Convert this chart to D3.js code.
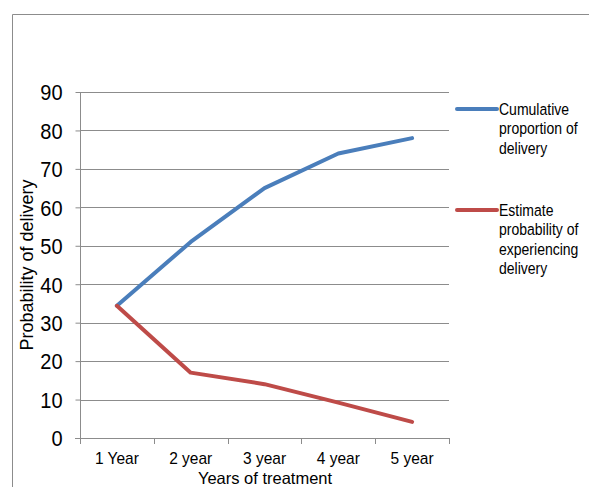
<!DOCTYPE html>
<html><head><meta charset="utf-8">
<script src="https://cdn.jsdelivr.net/npm/d3@7"></script>
<style>
html,body{margin:0;padding:0;background:#fff;}
text{font-family:"Liberation Sans",Arial,sans-serif;fill:#000;}
</style></head>
<body><svg id="chart" width="589" height="487"></svg>
<script>
const categories = ["1 Year","2 year","3 year","4 year","5 year"];
const cumulative = [34.4, 51, 65, 74, 78];
const estimate = [34.4, 17, 14, 9.2, 4.2];
const yTicks = [0,10,20,30,40,50,60,70,80,90];
const seriesNames = [["Cumulative","proportion of","delivery"],["Estimate","probability of","experiencing","delivery"]];
const colors = ["#4A7EBB","#BE4B48"];

const svg = d3.select("#chart");
// outer frame
svg.append("path").attr("d","M12.5,487 V14.5 H589").attr("fill","none").attr("stroke","#8c8c8c").attr("stroke-width",1);

const L=80, R=449, T=92, B=438;
const x = d3.scaleBand().domain(categories).range([L,R]).padding(0);
const y = d3.scaleLinear().domain([0,90]).range([B,T]);

// gridlines
svg.append("g").selectAll("line").data(yTicks.filter(d=>d>0)).join("line")
  .attr("x1",L).attr("x2",R).attr("y1",d=>Math.round(y(d))+0.5).attr("y2",d=>Math.round(y(d))+0.5)
  .attr("stroke","#8c8c8c").attr("stroke-width",1);

// y axis
const ya = svg.append("g").attr("transform",`translate(${L+0.5},0)`)
  .call(d3.axisLeft(y).tickValues(yTicks).tickSize(5).tickPadding(13));
ya.select(".domain").attr("stroke","#8c8c8c").attr("d",`M0,${T}V${B+0.5}`);
ya.selectAll(".tick line").attr("stroke","#8c8c8c");
ya.selectAll(".tick text").attr("font-size",20).attr("font-family","Liberation Sans, Arial, sans-serif").attr("fill","#000")
  .attr("dy","0.36em")
  .style("transform","scaleY(1.08)").style("transform-box","fill-box").style("transform-origin","center");

// x axis
const xa = svg.append("g").attr("transform",`translate(0,${B+0.5})`)
  .call(d3.axisBottom(x).tickSize(0).tickPadding(14));
xa.select(".domain").attr("stroke","#8c8c8c").attr("d",`M${L-5},0H${R}`);
xa.selectAll(".tick text").attr("font-size",16).attr("font-family","Liberation Sans, Arial, sans-serif").attr("fill","#000")
  .style("transform","scaleX(0.97)").style("transform-box","fill-box").style("transform-origin","center");
// category boundary ticks
const bounds = categories.map(c=>x(c)).concat([R]);
svg.append("g").selectAll("line").data(bounds).join("line")
  .attr("x1",d=>Math.round(d)+0.5).attr("x2",d=>Math.round(d)+0.5).attr("y1",B).attr("y2",B+6)
  .attr("stroke","#8c8c8c");

// lines
const line = d3.line().x((d,i)=>x(categories[i])+x.bandwidth()/2).y(d=>y(d));
[cumulative, estimate].forEach((s,k)=>{
  svg.append("path").datum(s).attr("d",line).attr("fill","none")
    .attr("stroke",colors[k]).attr("stroke-width",4).attr("stroke-linejoin","round").attr("stroke-linecap","round");
});

// axis titles
svg.append("text").attr("x",265).attr("y",484).attr("text-anchor","middle").attr("font-size",16.5).text("Years of treatment");
svg.append("text").attr("transform","translate(33,265) rotate(-90)").attr("text-anchor","middle").attr("font-size",18).text("Probability of delivery");

// legend
const legY = [109, 210];
seriesNames.forEach((lines,k)=>{
  const g = svg.append("g");
  g.append("line").attr("x1",457).attr("x2",497).attr("y1",legY[k]).attr("y2",legY[k])
    .attr("stroke",colors[k]).attr("stroke-width",4).attr("stroke-linecap","round");
  const t = g.append("text").attr("font-size",14.3)
    .attr("transform",`translate(499,${legY[k]+6}) scale(0.98,1.17)`);
  lines.forEach((ln,i)=>{
    t.append("tspan").attr("x",0).attr("y",i*19.3/1.17).text(ln);
  });
});
</script></body></html>
